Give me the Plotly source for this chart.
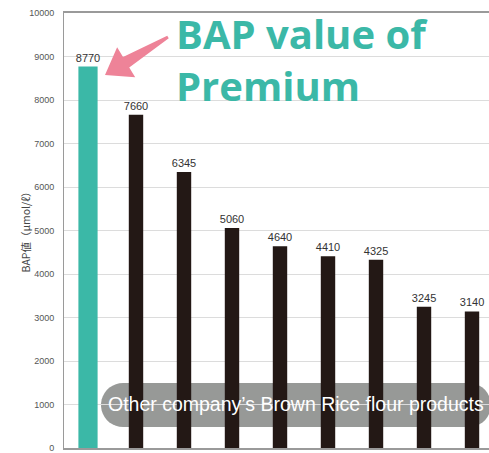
import numpy as np
import plotly.graph_objects as go

products = ["Premium", "Other 1", "Other 2", "Other 3", "Other 4", "Other 5", "Other 6", "Other 7", "Other 8"]
bap_values = [8770, 7660, 6345, 5060, 4640, 4410, 4325, 3245, 3140]
bar_colors = ["#3bb8a7"] + ["#231815"] * 8
bar_widths = [0.4] + [0.3] * 8
y_ticks = list(range(0, 10001, 1000))
y_tick_text = [str(v) for v in y_ticks]

W, H = 489, 453
L, R, T, B = 64, 0, 13, 5
pw, ph = W - L - R, H - T - B

def px2paper(x, y):
    return (x - L) / pw, (H - B - y) / ph

fig = go.Figure()
fig.add_trace(go.Bar(
    x=products, y=bap_values, width=bar_widths,
    marker=dict(color=bar_colors, line=dict(width=0)),
    text=[str(v) for v in bap_values], textposition="outside", constraintext="none",
    textfont=dict(size=11, color="#333333", family="Liberation Sans"),
    cliponaxis=False, showlegend=False,
))

# block arrow (pixel geometry -> paper)
tip = np.array([105.0, 75.0]); tail = np.array([168.0, 37.0])
u = (tip - tail) / np.linalg.norm(tip - tail)
n = np.array([-u[1], u[0]])
base = tip - 24.7 * u
pts = [tail + 1.5 * n, base + 6 * n, base + 17.5 * n, tip, base - 17.5 * n, base - 6 * n, tail - 1.5 * n]
pp = [px2paper(*p) for p in pts]
path = "M " + " L ".join(f"{a:.4f},{b:.4f}" for a, b in pp) + " Z"
fig.add_shape(type="path", xref="paper", yref="paper", path=path,
              fillcolor="#ee8398", line=dict(width=0), layer="above")

# rounded label box
x0, x1, yt, yb = 101, 491, 383, 427
r = (yb - yt) / 2
cy = (yt + yb) / 2
ang1 = np.linspace(np.pi / 2, 3 * np.pi / 2, 20)
ang2 = np.linspace(-np.pi / 2, np.pi / 2, 20)
box = [(x0 + r + r * np.cos(a), cy - r * np.sin(a)) for a in ang1]
box += [(x1 - r + r * np.cos(a), cy - r * np.sin(a)) for a in ang2]
bp = [px2paper(*p) for p in box]
bpath = "M " + " L ".join(f"{a:.4f},{b:.4f}" for a, b in bp) + " Z"
fig.add_shape(type="path", xref="paper", yref="paper", path=bpath,
              fillcolor="rgba(128,130,128,0.82)", line=dict(width=0), layer="below")

ax, ay = px2paper(296, 404)
fig.add_annotation(x=ax, y=ay, xref="paper", yref="paper", showarrow=False,
                   yanchor="middle",
                   text="Other company’s Brown Rice flour products",
                   font=dict(size=19.5, color="white", family="Liberation Sans"))

tx, ty = px2paper(174, 59)
fig.add_annotation(x=tx, y=ty, xref="paper", yref="paper", showarrow=False,
                   xanchor="left", yanchor="middle", align="left",
                   text="<b>BAP value of<br>Premium</b>",
                   font=dict(size=40, color="#3bb8a7", family="Open Sans"))

yx, yy = px2paper(15, 230)
fig.add_annotation(x=yx, y=yy, xref="paper", yref="paper", showarrow=False,
                   textangle=-90, text="BAP値（μmol/ℓ）",
                   font=dict(size=10.5, color="#444444", family="Noto Sans CJK JP"))

fig.update_layout(
    width=W, height=H, autosize=False,
    margin=dict(l=L, r=R, t=T, b=B, autoexpand=False),
    paper_bgcolor="white", plot_bgcolor="white",
    xaxis=dict(type="category", range=[-0.5, 8.354], showticklabels=False, showgrid=False,
               showline=True, mirror=True, linecolor="#9a9a9a", linewidth=1.5, ticks="",
               automargin=False),
    yaxis=dict(range=[0, 10000], tickvals=y_ticks, ticktext=y_tick_text, showgrid=True,
               gridcolor="#dcdcdc", showline=True, linecolor="#9a9a9a", linewidth=1,
               zeroline=False, ticklabeloverflow="allow", automargin=False,
               tickfont=dict(size=9, color="#555555", family="Liberation Sans"),
               ticks="", ticklabelstandoff=7),
)
fig.write_html("out.html", config={"displayModeBar": False},
               post_script="document.body.style.margin='0px';")
